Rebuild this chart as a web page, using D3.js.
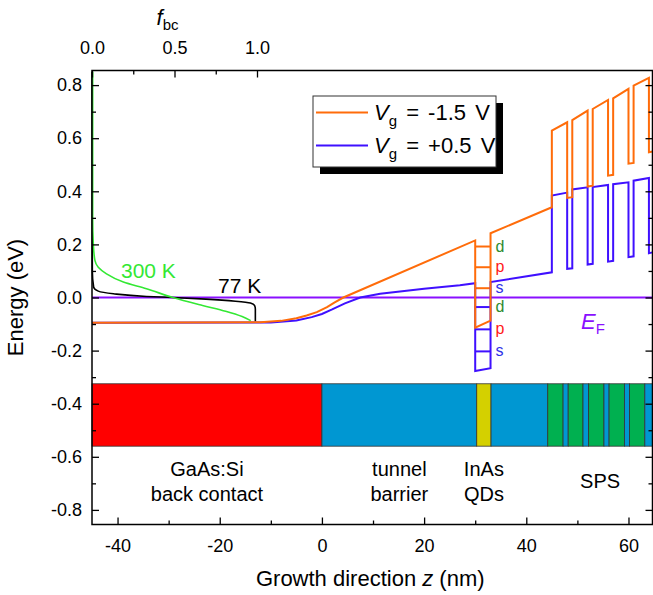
<!DOCTYPE html>
<html>
<head>
<meta charset="UTF-8">
<script src="https://cdn.jsdelivr.net/npm/d3@7"></script>
<style>
  body { margin: 0; background: #fff; }
  svg text { font-family: "Liberation Sans", Arial, sans-serif; fill: #000; }
</style>
</head>
<body>
<svg id="chart" width="653" height="595"></svg>
<script>
// conduction band edge, Vg = -1.5 V : [z (nm), E (eV)]
const bandNeg = [
  [-45, -0.095], [-12, -0.093], [-8, -0.088], [-5, -0.078], [-3, -0.068], [-1, -0.055],
  [1, -0.036], [2.5, -0.018], [4.2, 0.0], [30, 0.215],
  [30, -0.114], [33, -0.087], [33, 0.242], [45, 0.34],
  [45, 0.629], [48, 0.66], [48, 0.375], [49, 0.378],
  [49, 0.668], [52, 0.704], [52, 0.418], [53, 0.421],
  [53, 0.71], [56, 0.744], [56, 0.459], [57, 0.462],
  [57, 0.75], [60, 0.786], [60, 0.504], [61, 0.507],
  [61, 0.798], [64, 0.827], [64, 0.547], [64.7, 0.55]
];
// conduction band edge, Vg = +0.5 V
const bandPos = [
  [-45, -0.095], [-10, -0.094], [-5, -0.087], [-2, -0.074], [0, -0.062], [2, -0.045],
  [4.5, -0.022], [7.5, 0.0], [11.4, 0.014], [20, 0.033], [27, 0.046], [30, 0.054],
  [30, -0.277], [33, -0.266], [33, 0.058], [45, 0.095],
  [45, 0.384], [48, 0.395], [48, 0.108], [49, 0.11],
  [49, 0.407], [52, 0.415], [52, 0.124], [53, 0.127],
  [53, 0.416], [56, 0.424], [56, 0.135], [57, 0.138],
  [57, 0.427], [60, 0.434], [60, 0.152], [61, 0.155],
  [61, 0.44], [64, 0.45], [64, 0.167], [64.7, 0.17]
];
// occupation of the back contact : [f_bc, E (eV)]
const occ300 = [
  [0.004, 0.85], [0.004, 0.3], [0.008, 0.2], [0.018, 0.139], [0.038, 0.114], [0.088, 0.089],
  [0.19, 0.058], [0.33, 0.033], [0.49, 0.0], [0.67, -0.03], [0.81, -0.052], [0.91, -0.072],
  [0.962, -0.087]
];
const occ77 = [
  [0.0, 0.85], [0.002, 0.1], [0.01, 0.039], [0.038, 0.024], [0.13, 0.014], [0.33, 0.004],
  [0.49, 0.0], [0.69, -0.006], [0.87, -0.014], [0.96, -0.021], [0.985, -0.03],
  [0.99, -0.043], [0.99, -0.09]
];
// QD levels (z 30..33)
const qdZ = [30, 33];
const qdLevelsNeg = [0.192, 0.114, 0.035];
const qdLevelsPos = [-0.036, -0.12, -0.203];
const qdNames = ["d", "p", "s"];
// layer stack : [z start, z end, material]
const layers = [
  [-45, 0, "contact"], [0, 30.3, "matrix"], [30.3, 33.1, "dot"], [33.1, 44.2, "matrix"],
  [44.2, 47.2, "sl"], [47.2, 48.2, "matrix"], [48.2, 51.1, "sl"], [51.1, 52.2, "matrix"],
  [52.2, 55.2, "sl"], [55.2, 56.2, "matrix"], [56.2, 59.2, "sl"], [59.2, 60.2, "matrix"],
  [60.2, 63.2, "sl"], [63.2, 64.7, "matrix"]
];
const regionNames = [
  [-45, 0, ["GaAs:Si", "back contact"]],
  [0, 30.3, ["tunnel", "barrier"]],
  [30.3, 33.1, ["InAs", "QDs"]],
  [44.2, 64.7, ["SPS"]]
];
const legendNames = ["-1.5 V", "+0.5 V"];
const zTicks = [-40, -20, 0, 20, 40, 60];
const zMinor = [-30, -10, 10, 30, 50];
const eTicks = [-0.8, -0.6, -0.4, -0.2, 0, 0.2, 0.4, 0.6, 0.8];
const eMinor = [-0.7, -0.5, -0.3, -0.1, 0.1, 0.3, 0.5, 0.7];
const fTicks = [0, 0.5, 1];
const fMinor = [0.25, 0.75];

const L = 92, R = 652.5, T = 70.5, B = 524.5;
const matColor = { contact: "#ff0000", matrix: "#0097d2", dot: "#d4d000", sl: "#00b050" };
const orange = "#ff6c0a", blue = "#3f10ff", purple = "#8a10ff", green = "#33e833";
const lvlColor = { d: "#2e8b2e", p: "#ff1a1a", s: "#3030e8" };

const svg = d3.select("#chart");
const x = d3.scaleLinear().domain([-45, 64.7]).range([L, R]);
const y = d3.scaleLinear().domain([-0.855, 0.855]).range([B, T]);
const fx = d3.scaleLinear().domain([0, 1]).range([L, 257]);
const fmt = d => d3.format(".1f")(d).replace("\u2212", "-");
const fmtInt = d => d3.format("d")(d).replace("\u2212", "-");

// layer stack bar
const barTop = y(-0.325), barBot = y(-0.56);
svg.append("g").selectAll("rect").data(layers).enter().append("rect")
  .attr("x", d => x(d[0])).attr("y", barTop)
  .attr("width", d => x(d[1]) - x(d[0])).attr("height", barBot - barTop)
  .attr("fill", d => matColor[d[2]]).attr("stroke", "#333").attr("stroke-width", 0.8);

const line = d3.line().x(d => x(d[0])).y(d => y(d[1]));
const occLine = d3.line().x(d => fx(d[0])).y(d => y(d[1])).curve(d3.curveMonotoneY);

// Fermi level
svg.append("line").attr("x1", L).attr("x2", R).attr("y1", y(0)).attr("y2", y(0))
  .attr("stroke", purple).attr("stroke-width", 2);

svg.append("path").attr("d", occLine(occ77)).attr("fill", "none").attr("stroke", "#000").attr("stroke-width", 1.6);
svg.append("path").attr("d", occLine(occ300)).attr("fill", "none").attr("stroke", green).attr("stroke-width", 1.6);

// QD levels
const lv = svg.append("g");
[[qdLevelsPos, blue], [qdLevelsNeg, orange]].forEach(([lvls, c]) => {
  lv.selectAll(null).data(lvls).enter().append("line")
    .attr("x1", x(qdZ[0])).attr("x2", x(qdZ[1]))
    .attr("y1", d => y(d)).attr("y2", d => y(d))
    .attr("stroke", c).attr("stroke-width", 2);
  lv.selectAll(null).data(lvls).enter().append("text")
    .attr("x", x(qdZ[1]) + 5).attr("y", d => y(d) + 5)
    .attr("font-size", 16).style("fill", (d, i) => lvlColor[qdNames[i]])
    .text((d, i) => qdNames[i]);
});

svg.append("path").attr("d", line(bandPos)).attr("fill", "none").attr("stroke", blue)
  .attr("stroke-width", 2).attr("stroke-linejoin", "miter");
svg.append("path").attr("d", line(bandNeg)).attr("fill", "none").attr("stroke", orange)
  .attr("stroke-width", 2).attr("stroke-linejoin", "miter");

// frame + axes
svg.append("rect").attr("x", L).attr("y", T).attr("width", R - L).attr("height", B - T)
  .attr("fill", "none").attr("stroke", "#000").attr("stroke-width", 1.5);

function axis(gen, tr, ticks, size, labels) {
  const g = svg.append("g").attr("transform", tr)
    .call(gen.tickValues(ticks).tickSize(-size).tickPadding(8).tickFormat(labels || (() => "")));
  g.select(".domain").remove();
  g.selectAll("line").attr("stroke-width", 1.3);
  g.selectAll("text").attr("font-size", 18).attr("font-family", "Liberation Sans, Arial, sans-serif");
  return g;
}
axis(d3.axisBottom(x), `translate(0,${B})`, zTicks, 7, fmtInt).selectAll("text").attr("dy", "1.1em");
axis(d3.axisBottom(x), `translate(0,${B})`, zMinor, 4);
axis(d3.axisLeft(y), `translate(${L},0)`, eTicks, 7, fmt).selectAll("text").attr("dx", "-2");
axis(d3.axisLeft(y), `translate(${L},0)`, eMinor, 4);
axis(d3.axisRight(y), `translate(${R},0)`, eTicks, 7);
axis(d3.axisRight(y), `translate(${R},0)`, eMinor, 4);
axis(d3.axisTop(fx), `translate(0,${T})`, fTicks, 7, fmt).selectAll("text").attr("dy", "-0.45em");
axis(d3.axisTop(fx), `translate(0,${T})`, fMinor, 4);

// labels
svg.append("text").attr("transform", `translate(23,${y(0)}) rotate(-90)`)
  .attr("text-anchor", "middle").attr("font-size", 22).text("Energy (eV)");
const xt = svg.append("text").attr("x", (L + R) / 2 - 2).attr("y", 586)
  .attr("text-anchor", "middle").attr("font-size", 22);
xt.append("tspan").text("Growth direction  ");
xt.append("tspan").attr("font-style", "italic").text("z");
xt.append("tspan").text(" (nm)");
const ft = svg.append("text").attr("x", fx(0.5) - 7).attr("y", 25).attr("text-anchor", "middle").attr("font-size", 22);
ft.append("tspan").attr("font-style", "italic").text("f");
ft.append("tspan").attr("font-size", 15).attr("dy", 5).text("bc");

svg.append("text").attr("x", 121).attr("y", 278).attr("font-size", 21).style("fill", green).text("300 K");
svg.append("text").attr("x", 218).attr("y", 293).attr("font-size", 21).text("77 K");

const ef = svg.append("text").attr("x", 581).attr("y", 329).attr("font-size", 22).style("fill", purple);
ef.append("tspan").attr("font-style", "italic").text("E");
ef.append("tspan").attr("font-size", 15).attr("dy", 5).text("F");

// region names under the stack
regionNames.forEach(([z0, z1, lines]) => {
  const t = svg.append("text").attr("text-anchor", "middle").attr("font-size", 20);
  const cx = x((z0 + z1) / 2);
  const y0 = lines.length > 1 ? 476 : 488;
  lines.forEach((s, i) => t.append("tspan").attr("x", cx).attr("y", y0 + i * 25).text(s));
});

// legend
const lg = svg.append("g").attr("transform", "translate(313,96)");
lg.append("rect").attr("x", 7).attr("y", 7).attr("width", 183).attr("height", 71).attr("fill", "#000");
lg.append("rect").attr("width", 183).attr("height", 71).attr("fill", "#fff").attr("stroke", "#333").attr("stroke-width", 1);
[orange, blue].forEach((c, i) => {
  const yy = 16.5 + i * 33;
  lg.append("line").attr("x1", 3).attr("x2", 55).attr("y1", yy).attr("y2", yy).attr("stroke", c).attr("stroke-width", 2);
  const t = lg.append("text").attr("x", 61).attr("y", yy + 7).attr("font-size", 22)
    .attr("word-spacing", 3);
  t.append("tspan").attr("font-style", "italic").text("V");
  t.append("tspan").attr("font-size", 15).attr("dy", 6).text("g");
  t.append("tspan").attr("dy", -6).text(" = " + legendNames[i]);
});
</script>
</body>
</html>
